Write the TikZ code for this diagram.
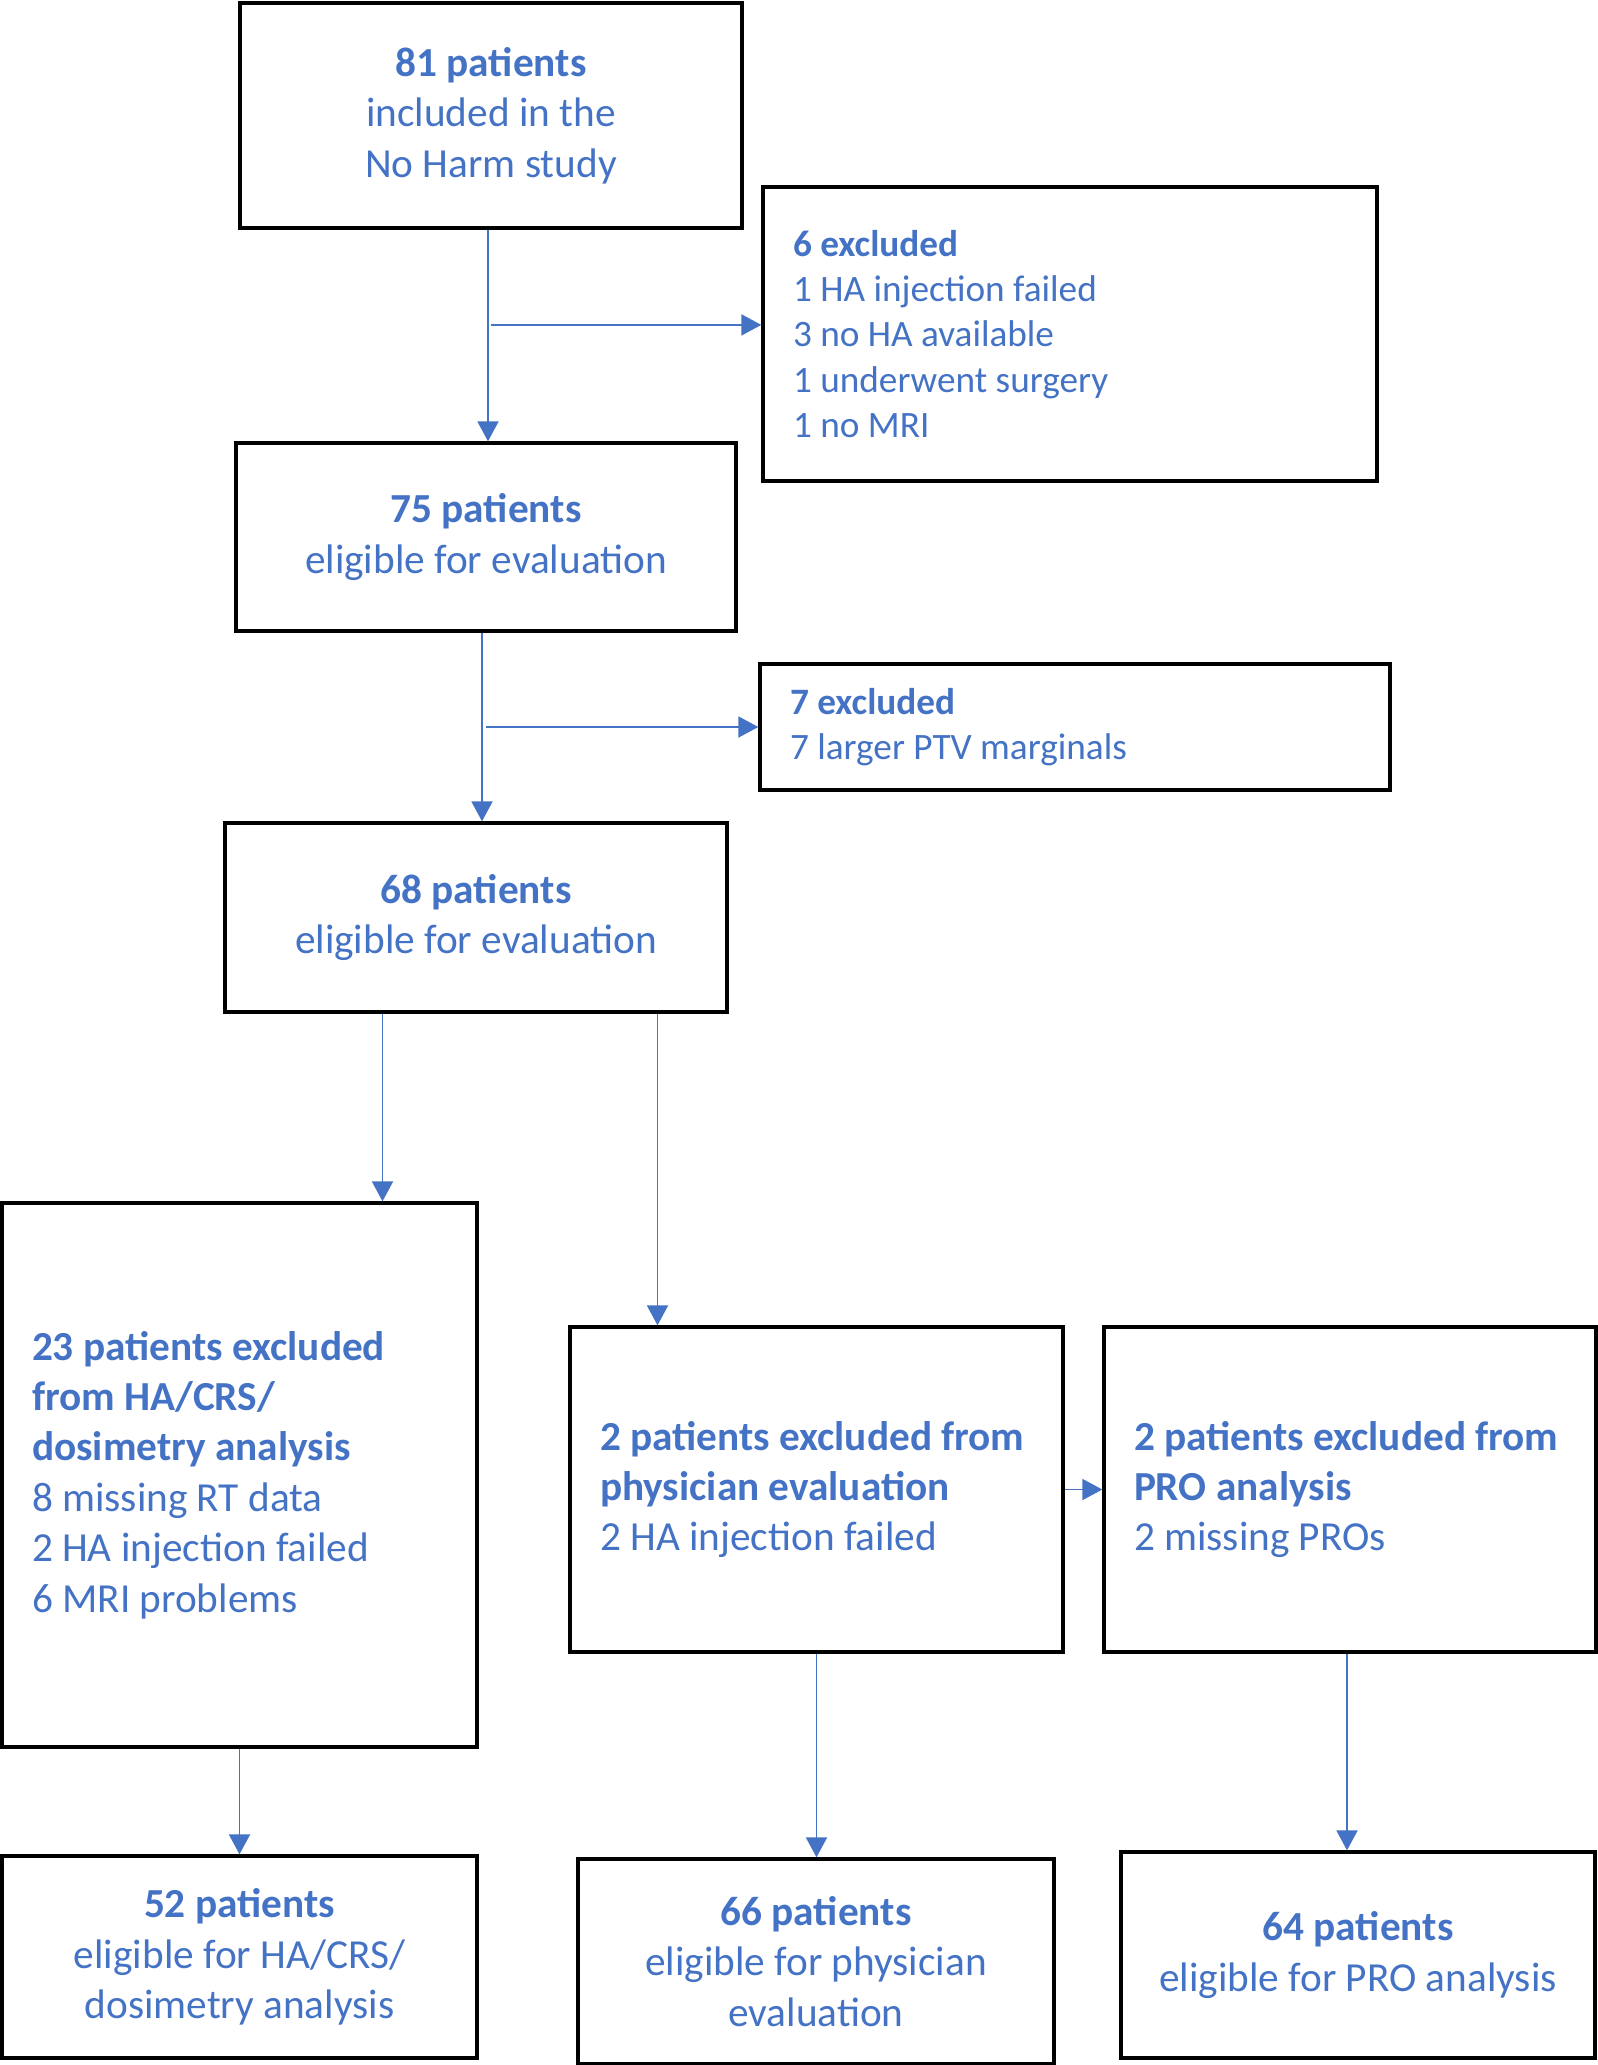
\documentclass[tikz,border=0pt]{standalone}
\usepackage{fontspec}
\setmainfont{Carlito}
\usetikzlibrary{arrows.meta,calc}
\definecolor{flowblue}{HTML}{4472C4}

\begin{document}
\begin{tikzpicture}

      \tikzset{enclosed/.style={draw, line width=1.9pt, text=flowblue, inner sep=0pt, font=\fontsize{23.5}{28.7}\selectfont},
               mid/.style={enclosed, align=center},
               side/.style={enclosed, align=flush left, inner xsep=0.6cm},
               small/.style={font=\fontsize{21.2}{25.8}\selectfont},
               flow/.style={draw=flowblue, line width=1.1pt, -{Triangle[length=0.4cm,width=0.42cm]}}}
      \useasboundingbox (0,0) rectangle (31.96,-41.30);
% Boxes
      	\node[mid, minimum width=10.04cm, minimum height=4.50cm] (b1) at (9.82,-2.31) {\textbf{81 patients}\\included in the\\No Harm study};
      	\node[side, small, text width=11.08cm, minimum height=5.88cm] (b2) at (21.40,-6.68) {\textbf{6 excluded}\\1 HA injection failed\\3 no HA available\\1 underwent surgery\\1 no MRI};
      	\node[mid, minimum width=10.00cm, minimum height=3.76cm] (b3) at (9.72,-10.74) {\textbf{75 patients}\\eligible for evaluation};
      	\node[side, small, text width=11.40cm, minimum height=2.52cm] (b4) at (21.50,-14.54) {\textbf{7 excluded}\\7 larger PTV marginals};
      	\node[mid, minimum width=10.04cm, minimum height=3.78cm] (b5) at (9.52,-18.35) {\textbf{68 patients}\\eligible for evaluation};
      	\node[side, text width=8.30cm, minimum height=10.88cm] (b6) at (4.79,-29.50) {\textbf{23 patients excluded}\\\textbf{from HA/CRS/}\\\textbf{dosimetry analysis}\\8 missing RT data\\2 HA injection failed\\6 MRI problems};
      	\node[side, text width=8.66cm, minimum height=6.50cm] (b7) at (16.33,-29.79) {\textbf{2 patients excluded from}\\\textbf{physician evaluation}\\2 HA injection failed};
      	\node[side, text width=8.64cm, minimum height=6.50cm] (b8) at (27.00,-29.79) {\textbf{2 patients excluded from}\\\textbf{PRO analysis}\\2 missing PROs};
      	\node[mid, minimum width=9.50cm, minimum height=4.04cm] (b9) at (4.79,-39.14) {\textbf{52 patients}\\eligible for HA/CRS/\\dosimetry analysis};
      	\node[mid, minimum width=9.52cm, minimum height=4.10cm] (b10) at (16.32,-39.23) {\textbf{66 patients}\\eligible for physician\\evaluation};
      	\node[mid, minimum width=9.48cm, minimum height=4.12cm] (b11) at (27.16,-39.10) {\textbf{64 patients}\\eligible for PRO analysis};
%Arrows
		\draw[flow] ([xshift=-0.06cm]b1.south) -- ([xshift=-0.06cm]b1.south |- b3.north);
		\coordinate (j1) at ($(b1.south)!0.45!(b1.south |- b3.north)$);
		\draw[flow] (j1) -- (j1 -| b2.west);
		\draw[flow] ([xshift=-0.08cm]b3.south) -- ([xshift=-0.08cm]b3.south |- b5.north);
		\coordinate (j2) at ($(b3.south)!0.5!(b3.south |- b5.north)$);
		\draw[flow] (j2) -- (j2 -| b4.west);
		\draw[flow] ([xshift=-1.87cm]b5.south) -- ([xshift=-1.87cm]b5.south |- b6.north);
		\draw[flow] ([xshift=3.63cm]b5.south) -- ([xshift=3.63cm]b5.south |- b7.north);
		\draw[flow] (b7.east) -- (b8.west);
		\draw[flow] (b6.south) -- (b9.north);
		\draw[flow] (b7.south) -- (b7.south |- b10.north);
		\draw[flow] ([xshift=-0.06cm]b8.south) -- ([xshift=-0.06cm]b8.south |- b11.north);

	\end{tikzpicture}
\end{document}
